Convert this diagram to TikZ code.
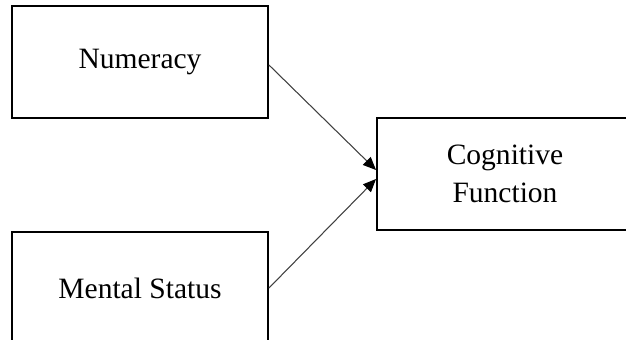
\documentclass[tikz,border=0pt]{standalone}
\usepackage{fontspec}
\setmainfont{Liberation Serif}
\usetikzlibrary{arrows.meta, positioning, calc}

\tikzset{
  varbox/.style={rectangle, draw=black, line width=1.1pt, fill=white,
    minimum width=256*0.02cm, minimum height=112*0.02cm, inner sep=0pt,
    align=center, font=\fontsize{16.8}{20}\selectfont},
  link/.style={draw=black!75, line width=0.6pt,
    -{Triangle[length=0.26cm, width=0.22cm, color=black, fill=black]}}
}

\begin{document}
\begin{tikzpicture}[x=0.02cm, y=-0.02cm]
    \useasboundingbox (0,0) rectangle (626,339);
    \clip (0,0) rectangle (626,339);
    \fill[white] (0,0) rectangle (626,339);

    \node[varbox] (num) at (140, 62) {Numeracy};
    \node[varbox] (ment) at (140, 288) {Mental Status};
    \node[varbox] (cog) at (505, 174) {Cognitive\\[1.5pt]Function};

    \draw[link] ($(num.east)+(0,3)$) -- ([yshift=0.08cm]cog.west);
    \draw[link] (ment.east) -- ([yshift=-0.1cm]cog.west);
  \end{tikzpicture}
\end{document}
